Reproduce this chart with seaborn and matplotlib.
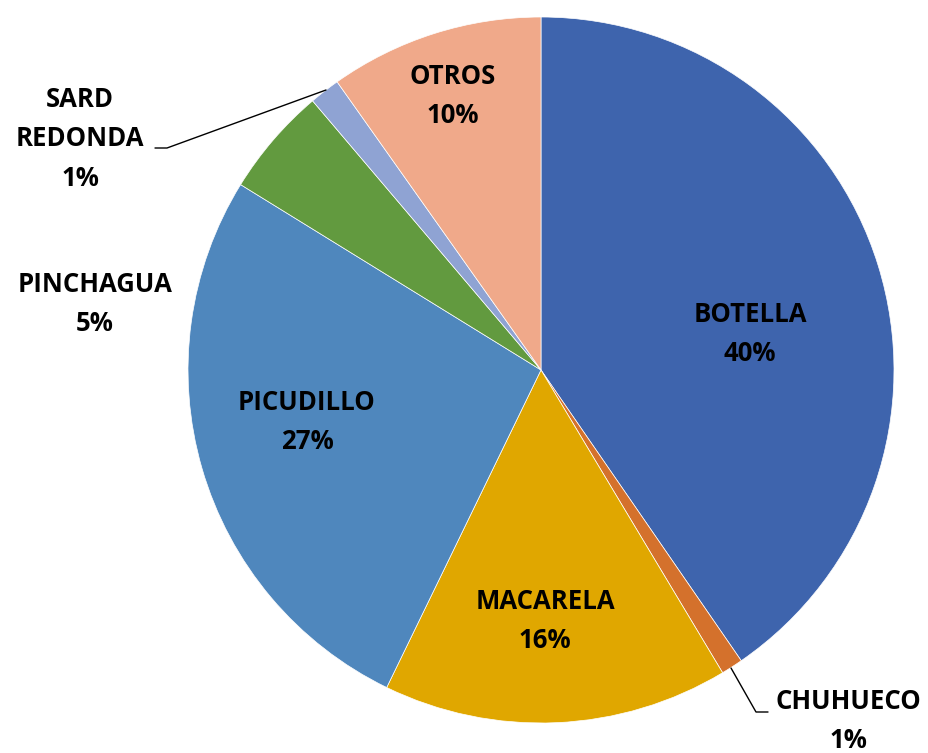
import matplotlib
matplotlib.use("Agg")
import matplotlib.pyplot as plt
import seaborn as sns
import numpy as np

sns.set_theme(style="white")
plt.rcParams['font.family'] = ['Open Sans', 'DejaVu Sans']

# Data (clockwise from 12 o'clock)
categories = ["BOTELLA", "CHUHUECO", "MACARELA", "PICUDILLO", "PINCHAGUA", "SARD\nREDONDA", "OTROS"]
values = [40.4, 1.0, 15.8, 26.6, 5.0, 1.4, 9.8]
colors = ["#3E64AD", "#D4712C", "#E0A700", "#4F87BD", "#629A3F", "#8FA3D3", "#F0A98A"]

W, H = 929, 753
cx, cy, R = 541, 370, 353

fig = plt.figure(figsize=(W / 100, H / 100), dpi=100)
fig.patch.set_facecolor("white")
ax = fig.add_axes([(cx - R) / W, (H - cy - R) / H, 2 * R / W, 2 * R / H])

wedges, _ = ax.pie(values, colors=colors, startangle=90, counterclock=False,
                   radius=1, wedgeprops=dict(linewidth=0.5, edgecolor="white"))
ax.set_xlim(-1, 1)
ax.set_ylim(-1, 1)
ax.set_aspect("equal")
ax.axis("off")

def px2d(px, py):
    return ((px - cx) / R, (cy - py) / R)

# label anchor positions (pixels)
label_pos = {
    "BOTELLA": (750, 334),
    "CHUHUECO": (848, 721),
    "MACARELA": (545, 621),
    "PICUDILLO": (307, 422),
    "PINCHAGUA": (95, 304),
    "SARD\nREDONDA": (80, 139),
    "OTROS": (453, 96),
}

total = sum(values)
for cat, v in zip(categories, values):
    x, y = px2d(*label_pos[cat])
    ax.text(x, y, f"{cat}\n{round(v / total * 100):d}%", ha="center", va="center",
            fontsize=18.5, fontweight="bold", color="black", linespacing=1.6,
            clip_on=False)

# leader lines
leaders = {
    "CHUHUECO": [(731, 668), (756, 712), (768, 712)],
    "SARD\nREDONDA": [(326, 90), (167, 148), (155, 148)],
}
for cat, pts in leaders.items():
    d = [px2d(*p) for p in pts]
    ax.plot([p[0] for p in d], [p[1] for p in d], color="black", lw=1.0, clip_on=False)

fig.savefig("out.png", dpi=100, facecolor="white")
